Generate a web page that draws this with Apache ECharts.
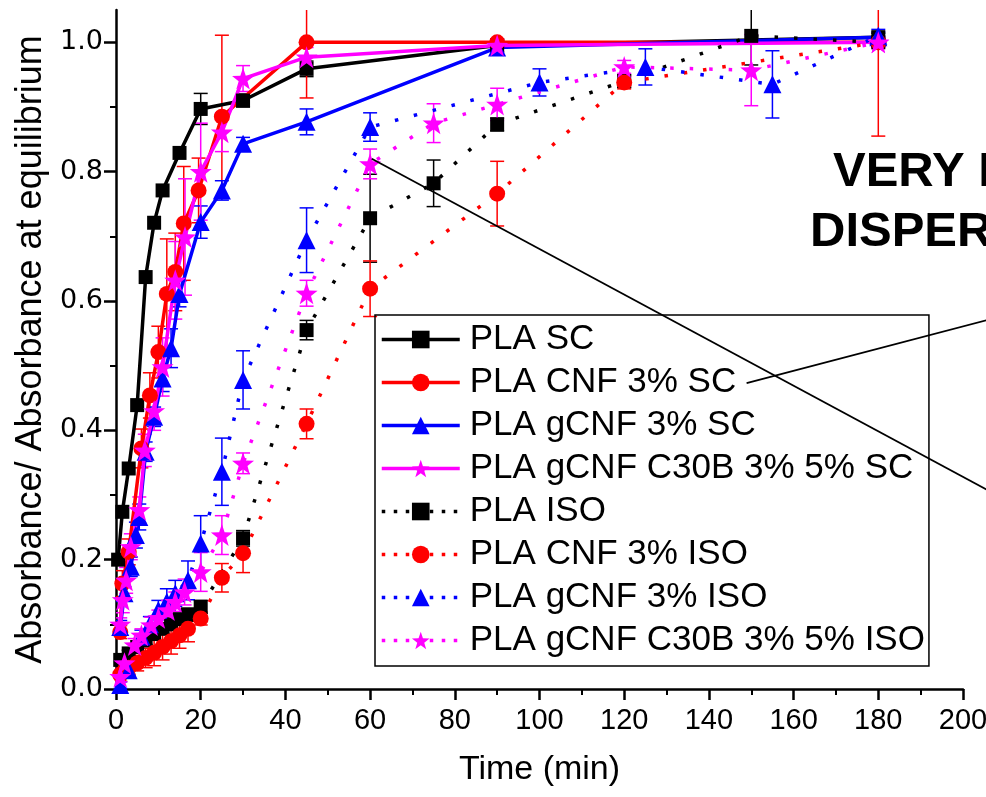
<!DOCTYPE html>
<html><head><meta charset="utf-8">
<script src="https://cdn.jsdelivr.net/npm/echarts@6/dist/echarts.min.js"></script>
<style>html,body{margin:0;padding:0;background:#fff}#c{width:986px;height:797px}</style>
</head><body><div id="c"></div>
<script>
// ---------- data (time in min, normalized absorbance, +/- error) ----------
const seriesNames = ['PLA SC','PLA CNF 3% SC','PLA gCNF 3% SC','PLA gCNF C30B 3% 5% SC',
                     'PLA ISO','PLA CNF 3% ISO','PLA gCNF 3% ISO','PLA gCNF C30B 3% 5% ISO'];
const xTicks = [0,20,40,60,80,100,120,140,160,180,200];
const yTicks = [0,0.2,0.4,0.6,0.8,1.0];

const scBlackT = [0.5, 1.5, 3, 5, 7, 9, 11, 15, 20, 30, 45, 90, 180];
const scBlackY = [0.20, 0.274, 0.341, 0.439, 0.637, 0.721, 0.771, 0.829, 0.897, 0.910, 0.959, 0.995, 1.008];
const scBlackE = [0, 0, 0, 0, 0, 0, 0, 0, 0.024, 0.01, 0.012, 0.01, 0.006];

const scRedT = [1, 1.5, 3, 6, 8, 10, 12, 14, 16, 19.5, 25, 45, 90, 180];
const scRedY = [0.088, 0.163, 0.212, 0.372, 0.454, 0.521, 0.611, 0.645, 0.720, 0.771, 0.885, 1.0, 1.0, 1.0];
const scRedE = [0.01, 0.02, 0.02, 0.03, 0.035, 0.04, 0.085, 0.06, 0.088, 0.05, 0.126, 0.086, 0.005, 0.145];

const scBlueT = [1, 2, 3.5, 4.7, 5.5, 7, 9, 11, 13, 15, 20, 25, 30, 45, 90, 180];
const scBlueY = [0.096, 0.148, 0.189, 0.238, 0.266, 0.367, 0.421, 0.48, 0.527, 0.611, 0.722, 0.771, 0.843, 0.877, 0.992, 1.008];
const scBlueE = [0.01, 0.01, 0.015, 0.02, 0.02, 0.015, 0.015, 0.02, 0.03, 0.02, 0.025, 0.015, 0.01, 0.02, 0.01, 0.008];

const scMagT = [1, 1.6, 2.4, 3.5, 5.5, 6.8, 9, 11, 14, 16.3, 20, 25, 30, 45, 90, 180];
const scMagY = [0.10, 0.138, 0.168, 0.22, 0.277, 0.369, 0.43, 0.498, 0.632, 0.699, 0.800, 0.861, 0.944, 0.977, 0.995, 1.0];
const scMagE = [0.01, 0.02, 0.02, 0.02, 0.02, 0.025, 0.03, 0.045, 0.06, 0.09, 0.075, 0.03, 0.02, 0.015, 0.01, 0.008];

const isoBlackT = [1, 3, 5, 7, 9, 11, 13, 15, 17, 20, 30, 45, 60, 75, 90, 120, 150, 180];
const isoBlackY = [0.045, 0.055, 0.065, 0.075, 0.085, 0.093, 0.100, 0.108, 0.115, 0.127, 0.233, 0.555, 0.728, 0.782, 0.873, 0.940, 1.010, 1.000];
const isoBlackE = [0.005, 0.005, 0.006, 0.006, 0.007, 0.007, 0.008, 0.008, 0.01, 0.01, 0.012, 0.015, 0.068, 0.036, 0.01, 0.01, 0.045, 0.006];

const isoRedT = [1, 2, 3, 5, 7, 9, 11, 13, 15, 17, 20, 25, 30, 45, 60, 90, 120, 180];
const isoRedY = [0.022, 0.028, 0.033, 0.040, 0.048, 0.056, 0.065, 0.074, 0.083, 0.093, 0.109, 0.172, 0.210, 0.410, 0.619, 0.766, 0.938, 1.000];
const isoRedE = [0.01, 0.01, 0.01, 0.012, 0.015, 0.02, 0.02, 0.02, 0.02, 0.02, 0.01, 0.022, 0.03, 0.023, 0.043, 0.05, 0.01, 0.005];

const isoBlueT = [1, 3, 6, 8, 10, 12, 14, 17, 20, 25, 30, 45, 60, 100, 125, 155, 180];
const isoBlueY = [0.006, 0.029, 0.081, 0.10, 0.122, 0.135, 0.148, 0.168, 0.225, 0.336, 0.478, 0.694, 0.869, 0.938, 0.962, 0.935, 1.01];
const isoBlueE = [0.005, 0.008, 0.01, 0.012, 0.015, 0.02, 0.02, 0.03, 0.043, 0.052, 0.045, 0.05, 0.022, 0.021, 0.028, 0.052, 0.01];

const isoMagT = [1, 2, 4.4, 6, 8.3, 10, 12.3, 14, 16.2, 20, 25, 30, 45, 60, 75, 90, 120, 150, 180];
const isoMagY = [0.019, 0.04, 0.068, 0.083, 0.099, 0.11, 0.122, 0.135, 0.15, 0.181, 0.238, 0.349, 0.612, 0.812, 0.875, 0.904, 0.962, 0.957, 1.0];
const isoMagE = [0.008, 0.01, 0.01, 0.01, 0.012, 0.012, 0.015, 0.015, 0.02, 0.03, 0.03, 0.016, 0.02, 0.023, 0.03, 0.025, 0.01, 0.055, 0.008];

// annotation arrows (data coordinates: [time, value])
const annotLine1 = [[60.4, 0.820], [206, 0.307]];
const annotLine2 = [[148.9, 0.473], [206, 0.571]];
const annotText = ['VERY EFFICIENT', 'DISPERSION'];

// ---------- chart ----------
const BLACK = '#000000', RED = '#ff0000', BLUE = '#0000ff', MAG = '#ff00ff';
const STAR = 'path://M0,-10L2.35,-3.24L9.51,-3.09L3.8,1.24L5.88,8.09L0,4L-5.88,8.09L-3.8,1.24L-9.51,-3.09L-2.35,-3.24Z';

const defs = [
  {T: scBlackT, Y: scBlackY, E: scBlackE, c: BLACK, s: 'rect', sz: 14, dot: false},
  {T: scRedT, Y: scRedY, E: scRedE, c: RED, s: 'circle', sz: 16, dot: false},
  {T: scBlueT, Y: scBlueY, E: scBlueE, c: BLUE, s: 'triangle', sz: 18, dot: false},
  {T: scMagT, Y: scMagY, E: scMagE, c: MAG, s: STAR, sz: 22, dot: false},
  {T: isoBlackT, Y: isoBlackY, E: isoBlackE, c: BLACK, s: 'rect', sz: 14, dot: true},
  {T: isoRedT, Y: isoRedY, E: isoRedE, c: RED, s: 'circle', sz: 16, dot: true},
  {T: isoBlueT, Y: isoBlueY, E: isoBlueE, c: BLUE, s: 'triangle', sz: 18, dot: true},
  {T: isoMagT, Y: isoMagY, E: isoMagE, c: MAG, s: STAR, sz: 22, dot: true}
];

function errRender(params, api) {
  const x = api.value(0), y = api.value(1), e = api.value(2);
  if (!e) return null;
  const top = api.coord([x, y + e]);
  const bot = api.coord([x, y - e]);
  const hw = 7;
  const style = {stroke: api.visual('color'), lineWidth: 1.5, fill: null};
  return {type: 'group', children: [
    {type: 'line', shape: {x1: top[0], y1: top[1], x2: bot[0], y2: bot[1]}, style: style},
    {type: 'line', shape: {x1: top[0] - hw, y1: top[1], x2: top[0] + hw, y2: top[1]}, style: style},
    {type: 'line', shape: {x1: bot[0] - hw, y1: bot[1], x2: bot[0] + hw, y2: bot[1]}, style: style}
  ]};
}

const series = [];
defs.forEach((d, i) => {
  series.push({
    type: 'custom', name: seriesNames[i] + ' err', renderItem: errRender, clip: true, z: 1,
    itemStyle: {color: d.c}, encode: {x: 0, y: 1}, silent: true,
    data: d.T.map((t, k) => [t, d.Y[k], d.E[k]])
  });
});
defs.forEach((d, i) => {
  series.push({
    type: 'line', name: seriesNames[i], clip: true, z: 2,
    data: d.T.map((t, k) => [t, d.Y[k]]),
    symbol: d.s, symbolSize: d.sz, showSymbol: true, showAllSymbol: true,
    itemStyle: {color: d.c, borderWidth: 0},
    lineStyle: {color: d.c, width: d.dot ? 3.5 : 3.5, type: d.dot ? [3.5, 16] : 'solid', cap: 'butt'},
    emphasis: {disabled: true}
  });
});

const chart = echarts.init(document.getElementById('c'), null, {renderer: 'canvas'});
const FONT = 'Liberation Sans, Arial, sans-serif';
chart.setOption({
  animation: false,
  backgroundColor: '#ffffff',
  grid: {left: 116, right: 23, top: 10, bottom: 108, containLabel: false, outerBoundsMode: 'none'},
  xAxis: {
    type: 'value', min: 0, max: 200, interval: 20,
    name: 'Time (min)', nameLocation: 'middle', nameGap: 64,
    nameTextStyle: {fontFamily: FONT, fontSize: 34, color: '#000'},
    axisLine: {show: true, onZero: false, lineStyle: {color: '#000', width: 2.5}},
    axisTick: {show: true, length: 11, lineStyle: {color: '#000', width: 2.5}, customValues: xTicks},
    minorTick: {show: true, splitNumber: 2, length: 6, lineStyle: {color: '#000', width: 2}},
    axisLabel: {fontFamily: FONT, fontSize: 29, color: '#000', margin: 17, customValues: xTicks},
    splitLine: {show: false}, minorSplitLine: {show: false}
  },
  yAxis: {
    type: 'value', min: 0, max: 1.05, interval: 0.2,
    name: 'Absorbance/ Absorbance at equilibrium', nameLocation: 'middle', nameGap: 56, nameRotate: 90,
    nameTextStyle: {fontFamily: FONT, fontSize: 36, color: '#000'},
    axisLine: {show: true, onZero: false, lineStyle: {color: '#000', width: 2.5}},
    axisTick: {show: true, length: 12, lineStyle: {color: '#000', width: 2.5}, customValues: yTicks},
    minorTick: {show: true, splitNumber: 2, length: 6, lineStyle: {color: '#000', width: 2}},
    axisLabel: {fontFamily: 'DejaVu Sans, sans-serif', fontSize: 27, color: '#000', margin: 13,
      customValues: yTicks, formatter: v => v.toFixed(1)},
    splitLine: {show: false}, minorSplitLine: {show: false}
  },
  legend: {
    show: true, orient: 'vertical', left: 375, top: 315,
    padding: [7, 4, 8, 5], itemGap: 8, itemWidth: 78, itemHeight: 22,
    borderColor: '#000', borderWidth: 1.5, backgroundColor: 'transparent',
    selectedMode: false,
    lineStyle: {width: 3.5},
    textStyle: {fontFamily: FONT, fontSize: 35, color: '#000', lineHeight: 35, padding: [0, 0, 0, 5]},
    data: seriesNames.map((n, i) => i < 4 ? {name: n, lineStyle: {width: 3.5, type: 'solid'}}
                                          : {name: n, lineStyle: {type: [3.5, 8.5], width: 3.5}})
  },
  series: series
});

// annotations positioned from data coordinates
function px(p) { return chart.convertToPixel({xAxisIndex: 0, yAxisIndex: 0}, p); }
const a1 = px(annotLine1[0]), b1 = px(annotLine1[1]);
const a2 = px(annotLine2[0]), b2 = px(annotLine2[1]);
chart.setOption({
  graphic: [
    {type: 'line', shape: {x1: a1[0], y1: a1[1], x2: b1[0], y2: b1[1]}, style: {stroke: '#000', lineWidth: 1.8}, z: 10, silent: true},
    {type: 'line', shape: {x1: a2[0], y1: a2[1], x2: b2[0], y2: b2[1]}, style: {stroke: '#000', lineWidth: 1.8}, z: 10, silent: true},
    {type: 'text', x: 833, y: 172, style: {text: annotText[0], font: 'bold 49px Liberation Sans, Arial, sans-serif', fill: '#000', verticalAlign: 'middle', align: 'left'}, z: 10, silent: true},
    {type: 'text', x: 810, y: 232, style: {text: annotText[1], font: 'bold 49px Liberation Sans, Arial, sans-serif', fill: '#000', verticalAlign: 'middle', align: 'left'}, z: 10, silent: true}
  ]
});
</script></body></html>
